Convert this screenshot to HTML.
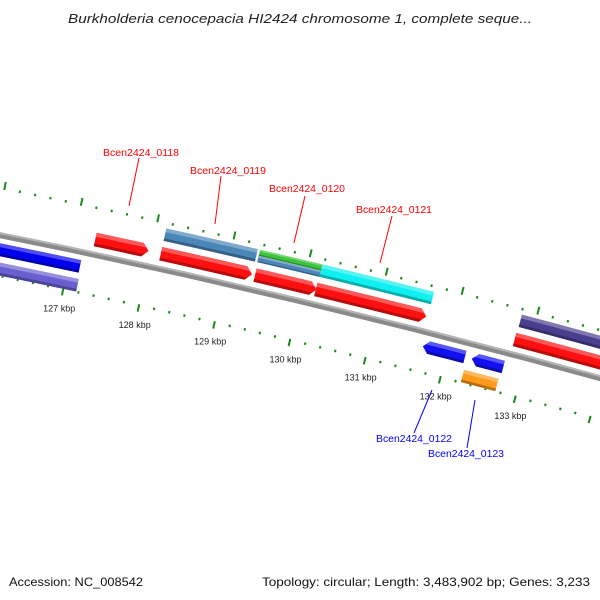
<!DOCTYPE html>
<html><head><meta charset="utf-8"><style>
html,body{margin:0;padding:0;background:#fff;}
svg{display:block;font-family:"Liberation Sans","DejaVu Sans",sans-serif;}
</style></head><body>
<svg id="map" width="600" height="600" viewBox="0 0 600 600" xmlns="http://www.w3.org/2000/svg">
<rect width="600" height="600" fill="#fff"/>
<text x="300" y="23" text-anchor="middle" font-size="13" font-style="italic" fill="#222" textLength="464" lengthAdjust="spacingAndGlyphs">Burkholderia cenocepacia HI2424 chromosome 1, complete seque...</text>
<g id="ticks"></g>
<g id="backbone"></g>
<g id="features"></g>
<g id="labels"></g>
<g font-size="10">
  <line x1="139" y1="158" x2="129" y2="206" stroke="#f00" stroke-width="1"/>
  <text x="103" y="156" fill="#f00" textLength="76" lengthAdjust="spacingAndGlyphs">Bcen2424_0118</text>
  <line x1="221" y1="176" x2="215" y2="224" stroke="#f00" stroke-width="1"/>
  <text x="190" y="174" fill="#f00" textLength="76" lengthAdjust="spacingAndGlyphs">Bcen2424_0119</text>
  <line x1="305" y1="196" x2="294" y2="243" stroke="#f00" stroke-width="1"/>
  <text x="269" y="192" fill="#f00" textLength="76" lengthAdjust="spacingAndGlyphs">Bcen2424_0120</text>
  <line x1="392" y1="216" x2="380" y2="263" stroke="#f00" stroke-width="1"/>
  <text x="356" y="213" fill="#f00" textLength="76" lengthAdjust="spacingAndGlyphs">Bcen2424_0121</text>
  <line x1="414" y1="433" x2="432" y2="390" stroke="#00f" stroke-width="1"/>
  <text x="376" y="442" fill="#00f" textLength="76" lengthAdjust="spacingAndGlyphs">Bcen2424_0122</text>
  <line x1="467" y1="448" x2="475" y2="400" stroke="#00f" stroke-width="1"/>
  <text x="428" y="457" fill="#00f" textLength="76" lengthAdjust="spacingAndGlyphs">Bcen2424_0123</text>
</g>
<text x="9" y="586" font-size="12" fill="#111" textLength="134" lengthAdjust="spacingAndGlyphs">Accession: NC_008542</text>
<text x="590" y="586" text-anchor="end" font-size="12" fill="#111" textLength="328" lengthAdjust="spacingAndGlyphs">Topology: circular; Length: 3,483,902 bp; Genes: 3,233</text>
</svg>
<script>
// ---- data ----
const featureNames  = ['left-blue','left-purple','bcen2424-0118','bcen2424-0119','cog-0119','bcen2424-0120','cog-0120-a','cog-0120-b','bcen2424-0121','cog-0121','bcen2424-0122','bcen2424-0123','cog-0123','right-red','right-purple'];
const featureStarts = [125.0, 125.0, 127.27, 128.13, 128.13, 129.37, 129.36, 129.36, 130.17, 130.18, 131.68, 132.33, 132.27, 132.80, 132.81];
const featureEnds   = [127.15, 127.17, 127.97, 129.33, 129.33, 130.18, 130.18, 130.18, 131.63, 131.65, 132.24, 132.75, 132.73, 135.0, 135.0];
const featureStrand = [-1, -1, 1, 1, 0, 1, 0, 0, 1, 0, -1, -1, 0, 1, 0];
const featureSlot   = ['r1','r2','f1','f1','f2','f1','f2a','f2b','f1','f2','r1','r1','r2','f1','f2'];
const featureColors = ['#0000ee','#6a5fd0','#ff1010','#ff1010','#4a86b8','#ff1010','#3cc43c','#4a86b8','#ff1010','#10f0f0','#1010f0','#1010f0','#ff9a1a','#ff1010','#4a3f8f'];
const tickStart = 125, tickEnd = 135, tickStep = 0.2;
const kbpLabels = [127,128,129,130,131,132,133];

// ---- geometry ----
const bb=[[0,235],[240,287],[600,378]];
function circle3(a,b,c){
  const d=2*(a[0]*(b[1]-c[1])+b[0]*(c[1]-a[1])+c[0]*(a[1]-b[1]));
  const ux=((a[0]**2+a[1]**2)*(b[1]-c[1])+(b[0]**2+b[1]**2)*(c[1]-a[1])+(c[0]**2+c[1]**2)*(a[1]-b[1]))/d;
  const uy=((a[0]**2+a[1]**2)*(c[0]-b[0])+(b[0]**2+b[1]**2)*(a[0]-c[0])+(c[0]**2+c[1]**2)*(b[0]-a[0]))/d;
  return [ux,uy,Math.hypot(a[0]-ux,a[1]-uy)];
}
const [CX,CY,R]=circle3(bb[0],bb[1],bb[2]);
const ang=p=>Math.atan2(p[1]-CY,p[0]-CX);
const a127=ang([62,295]), a132=ang([439,383]);
const dA=(a132-a127)/5;
function pos(k,v){const a=a127+(k-127)*dA, r=R-v; return [CX+r*Math.cos(a), CY+r*Math.sin(a)];}
const slotV={f1:[-22,-8],f2:[-41,-28],f2a:[-41,-34.5],f2b:[-34.5,-28],r1:[8,21],r2:[27,40]};
const NS='http://www.w3.org/2000/svg';
function mk(tag,attrs,parent){const e=document.createElementNS(NS,tag);for(const k in attrs)e.setAttribute(k,attrs[k]);parent.appendChild(e);return e;}
function ptsStr(a){return a.map(p=>p[0].toFixed(2)+','+p[1].toFixed(2)).join(' ');}
function band(k1,k2,v1,v2){const n=8,o=[],i=[];for(let j=0;j<=n;j++){const k=k1+(k2-k1)*j/n;o.push(pos(k,v1));i.unshift(pos(k,v2));}return o.concat(i);}
function arrow(k1,k2,v1,v2,dir){
  const h=0.08, vm=(v1+v2)/2;
  if(dir===1){const b=band(k1,k2-h,v1,v2);const n=b.length/2;return b.slice(0,n).concat([pos(k2,vm)]).concat(b.slice(n));}
  if(dir===-1){const b=band(k1+h,k2,v1,v2);const n=b.length/2;return b.slice(0,n).concat(b.slice(n)).concat([pos(k1,vm)]);}
  return band(k1,k2,v1,v2);
}

// ticks
const tg=document.getElementById('ticks');
for(let k=tickStart;k<=tickEnd+1e-9;k+=tickStep){
  const kk=Math.round(k*10)/10, major=Math.abs(kk-Math.round(kk))<1e-6;
  const p1=pos(kk,-45),p2=pos(kk,major?-53:-47.5);
  const t1=mk('line',{x1:p1[0],y1:p1[1],x2:p2[0],y2:p2[1],stroke:'#188a18','stroke-width':2},tg);
  
  
  const q1=pos(kk,39),q2=pos(kk,major?46.5:41.5);
  const t2=mk('line',{x1:q1[0],y1:q1[1],x2:q2[0],y2:q2[1],stroke:'#188a18','stroke-width':2},tg);
  
  
}
// backbone
const bg=document.getElementById('backbone');
const bp=mk('polygon',{points:ptsStr(band(124,136,-3,3)),fill:'#8a8a8a'},bg);


const bh=mk('polygon',{points:ptsStr(band(124,136,-3,-1)),fill:'#b4b4b4'},bg);


// features
const fg=document.getElementById('features');
const defs=mk('defs',{},fg);
for(let i=0;i<featureNames.length;i++){
  const [v1,v2]=slotV[featureSlot[i]], k1=featureStarts[i], k2=featureEnds[i];
  const poly=arrow(k1,k2,v1,v2,featureStrand[i]);
  const cp=mk('clipPath',{id:'cp'+i},defs);
  mk('polygon',{points:ptsStr(poly)},cp);
  const g=mk('g',{'clip-path':'url(#cp'+i+')'},fg);
  
  
  const w=v2-v1;
  mk('polygon',{points:ptsStr(band(k1-0.2,k2+0.2,v1,v2)),fill:featureColors[i]},g);
  mk('polygon',{points:ptsStr(band(k1-0.2,k2+0.2,v1,v1+w*0.3)),fill:'#fff','fill-opacity':0.3},g);
  mk('polygon',{points:ptsStr(band(k1-0.2,k2+0.2,v2-w*0.22,v2)),fill:'#000','fill-opacity':0.28},g);
}
// kbp labels
const lg=document.getElementById('labels');
for(const k of kbpLabels){
  const p=pos(k,60);
  const t=mk('text',{x:p[0].toFixed(1),y:(p[1]+3).toFixed(1),'text-anchor':'middle','font-size':9,fill:'#222'},lg);
  
  
  t.textContent=k+' kbp';
}
</script>
</body></html>
